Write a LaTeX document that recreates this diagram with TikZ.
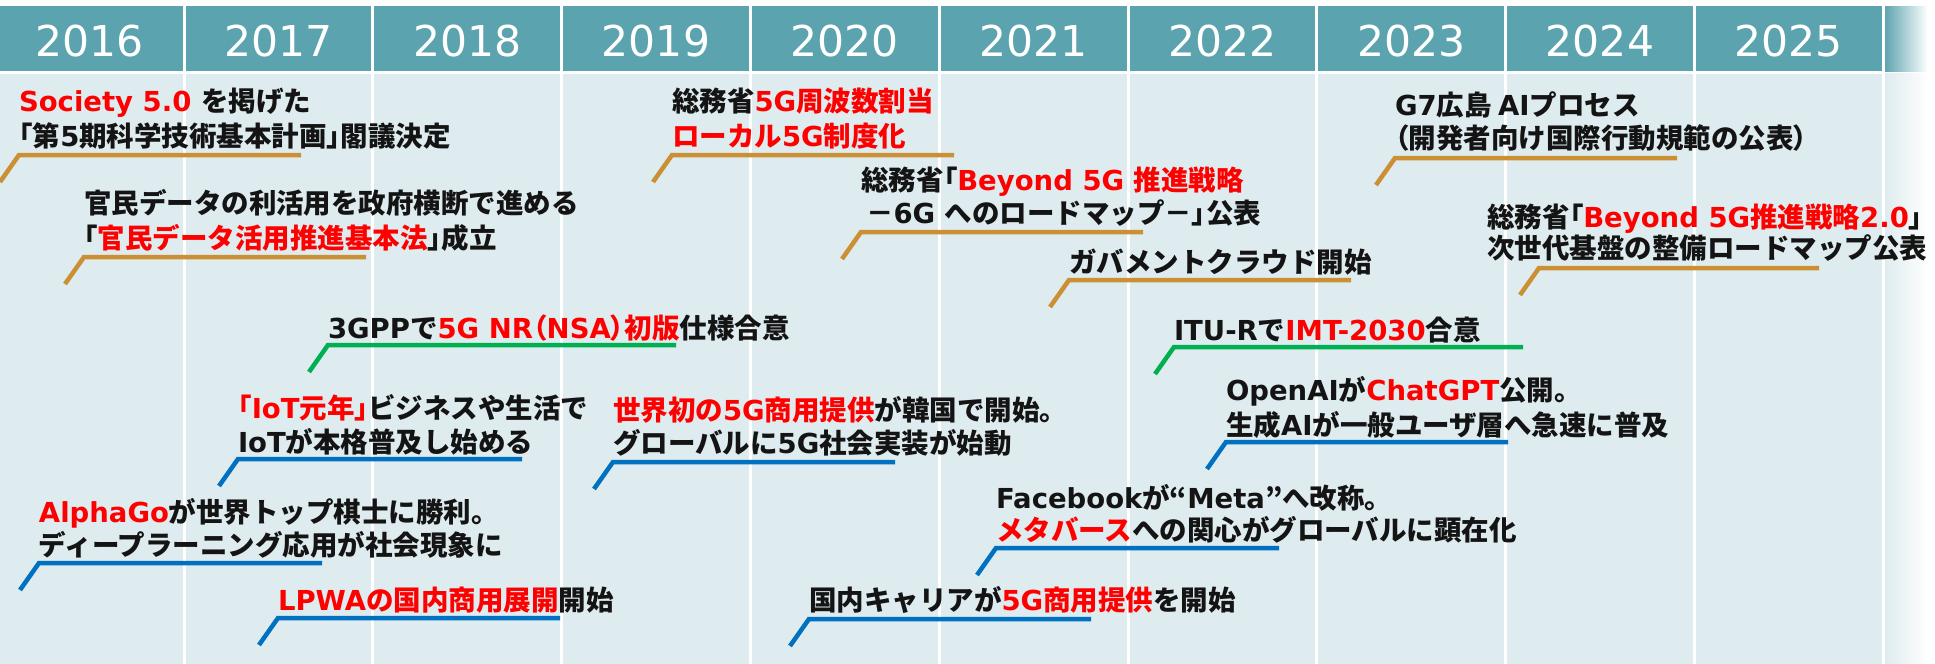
\documentclass[tikz,border=0pt]{standalone}
\usepackage{fontspec}
\setmainfont{DejaVu Sans}
\newfontfamily\latfont{DejaVu Sans}
\newfontfamily\jpfont{Noto Sans CJK JP}
\newfontfamily\jppfont{Noto Sans CJK JP}[RawFeature=+palt]
% character classes for automatic font switching
\newcount\cccount
\cccount="3000 \loop\XeTeXcharclass\cccount=1 \ifnum\cccount<"9FFF \advance\cccount by 1 \repeat
\cccount="FF00 \loop\XeTeXcharclass\cccount=1 \ifnum\cccount<"FFEF \advance\cccount by 1 \repeat
\XeTeXcharclass"201C=1 \XeTeXcharclass"201D=1
\XeTeXcharclass"300C=5 \XeTeXcharclass"300D=5 \XeTeXcharclass"FF08=5 \XeTeXcharclass"FF09=5
\XeTeXinterchartoks 0 1 = {\jpfont}
\XeTeXinterchartoks 5 1 = {\jpfont}
\XeTeXinterchartoks 4095 1 = {\jpfont}
\XeTeXinterchartoks 0 5 = {\jppfont}
\XeTeXinterchartoks 1 5 = {\jppfont}
\XeTeXinterchartoks 4095 5 = {\jppfont}
\XeTeXinterchartoks 1 0 = {\latfont}
\XeTeXinterchartoks 5 0 = {\latfont}
\XeTeXinterchartoks 4095 0 = {\latfont}
\definecolor{headc}{RGB}{91,163,174}
\definecolor{bodyc}{RGB}{222,235,239}
\definecolor{goldc}{RGB}{204,144,52}
\definecolor{bluec}{RGB}{0,112,192}
\definecolor{greenc}{RGB}{0,176,80}
\definecolor{txtc}{RGB}{20,20,20}
\definecolor{redc}{RGB}{255,0,0}
\newcommand\rd[1]{{\color{redc}#1}}
\newcommand\evline[5]{%
  \coordinate (#1T) at ({#3-19},{#4+27});
  \coordinate (#1S) at (#3,#4);
  \coordinate (#1E) at (#5,#4);
  \draw[#2] (#1T) -- (#1S) -- (#1E);}
\tikzset{
  ev/.style={anchor=base west, inner sep=0pt, outer sep=0pt, text=txtc,
    font=\fontsize{13.75}{17}\selectfont\bfseries},
  yr/.style={anchor=base, inner sep=0pt, text=white,
    font=\fontsize{21.25}{25}\selectfont},
  goldln/.style={draw=goldc, line width=2.25pt},
  blueln/.style={draw=bluec, line width=2.25pt},
  greenln/.style={draw=greenc, line width=2.25pt},
  divider/.style={draw=white, line width=1.5pt}
}
\begin{document}
\begin{tikzpicture}[x=0.5pt,y=-0.5pt]
\XeTeXinterchartokenstate=1
\useasboundingbox (0,0) rectangle (1935,664);
\fill[white] (0,0) rectangle (1935,664);
% header and body
\fill[headc] (0,6) rectangle (1885,71);
\shade[left color=headc, right color=white] (1884,6) rectangle (1928,71);
\fill[bodyc] (0,73.5) rectangle (1885,664);
\shade[left color=bodyc, right color=white] (1884,73.5) rectangle (1928,664);
\foreach \k in {0,...,9} \draw[divider] ({184+188.8*\k},6) -- ({184+188.8*\k},664);
% years
\foreach \yy [count=\i from 0] in {2016,2017,2018,2019,2020,2021,2022,2023,2024,2025}
  \node[yr] (y\yy) at ({89.6+188.8*\i},56) {\yy};

% gold events
\node[ev] (a1) at (19,112) {\rd{Society 5.0} を掲げた};
\node[ev] (a2) at (19,146) {「第5期科学技術基本計画」閣議決定};
\evline{a}{goldln}{19}{155}{301}

\node[ev] (b1) at (84,213) {官民データの利活用を政府横断で進める};
\node[ev] (b2) at (84,248) {「\rd{官民データ活用推進基本法}」成立};
\evline{b}{goldln}{84}{257}{366}

\node[ev] (c1) at (672,112) {総務省\rd{5G周波数割当}};
\node[ev] (c2) at (672,146) {\rd{ローカル5G制度化}};
\evline{c}{goldln}{672}{155}{954}

\node[ev] (d1) at (861,190) {総務省「\rd{Beyond 5G 推進戦略}};
\node[ev] (d2) at (866,223) {－6G へのロードマップ－」公表};
\evline{d}{goldln}{861}{232}{1143}

\node[ev] (e1) at (1069,272) {ガバメントクラウド開始};
\evline{e}{goldln}{1069}{280}{1351}

\node[ev] (f1) at (1395,115) {G7広島 AIプロセス};
\node[ev] (f2) at (1395,148) {（開発者向け国際行動規範の公表）};
\evline{f}{goldln}{1395}{158}{1677}

\node[ev] (g1) at (1487,227) {総務省「\rd{Beyond 5G推進戦略2.0}」};
\node[ev] (g2) at (1487,258) {次世代基盤の整備ロードマップ公表};
\evline{g}{goldln}{1539}{268}{1819}

% green events
\node[ev] (h1) at (328,338) {3GPPで\rd{5G NR（NSA）初版}仕様合意};
\evline{h}{greenln}{328}{345}{676}

\node[ev] (i1) at (1174,340) {ITU-Rで\rd{IMT-2030}合意};
\evline{i}{greenln}{1174}{347}{1523}

% blue events
\node[ev] (j1) at (238,418) {\rd{「IoT元年」}ビジネスや生活で};
\node[ev] (j2) at (238,452) {IoTが本格普及し始める};
\evline{j}{blueln}{238}{459}{522}

\node[ev] (k1) at (39,522) {\rd{AlphaGo}が世界トップ棋士に勝利。};
\node[ev] (k2) at (39,555) {ディープラーニング応用が社会現象に};
\evline{k}{blueln}{39}{563}{322}

\node[ev] (l1) at (278,610) {\rd{LPWAの国内商用展開}開始};
\evline{l}{blueln}{278}{618}{560}

\node[ev] (m1) at (613,420) {\rd{世界初の5G商用提供}が韓国で開始。};
\node[ev] (m2) at (613,453) {グローバルに5G社会実装が始動};
\evline{m}{blueln}{613}{462}{895}

\node[ev] (n1) at (1226,400) {OpenAIが\rd{ChatGPT}公開。};
\node[ev] (n2) at (1226,435) {生成AIが一般ユーザ層へ急速に普及};
\evline{n}{blueln}{1226}{442}{1508}

\node[ev] (o1) at (996,508) {Facebookが“Meta”へ改称。};
\node[ev] (o2) at (996,540) {\rd{メタバース}への関心がグローバルに顕在化};
\evline{o}{blueln}{996}{548}{1279}

\node[ev] (p1) at (809,610) {国内キャリアが\rd{5G商用提供}を開始};
\evline{p}{blueln}{809}{619}{1091}
\end{tikzpicture}
\end{document}
